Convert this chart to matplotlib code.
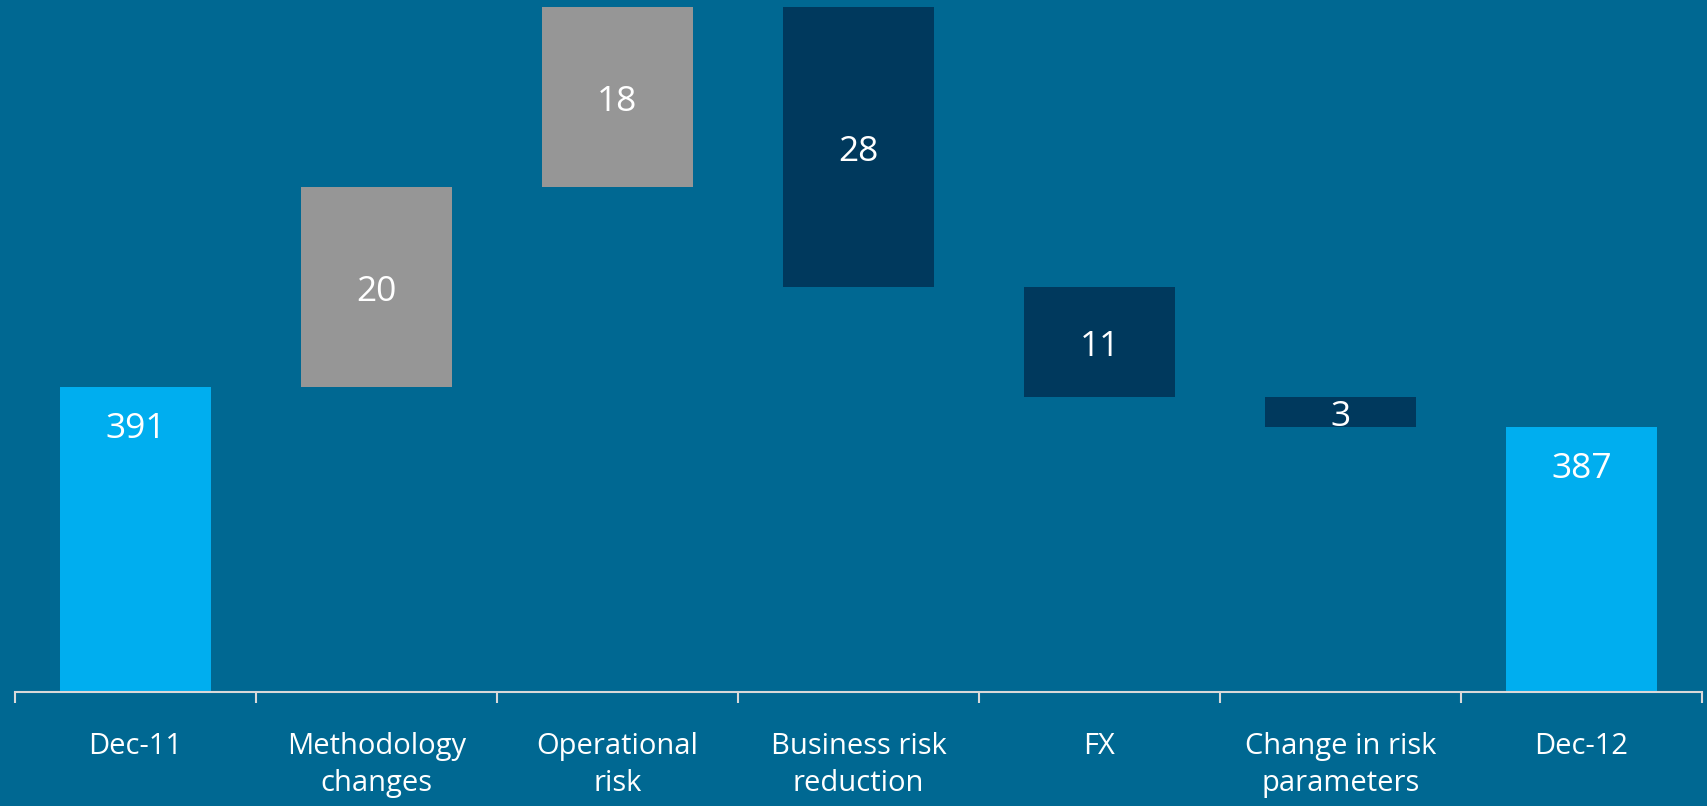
import matplotlib
matplotlib.use("Agg")
import matplotlib.pyplot as plt
import numpy as np

# waterfall data
categories = ["Dec-11", "Methodology\nchanges", "Operational\nrisk", "Business risk\nreduction",
              "FX", "Change in risk\nparameters", "Dec-12"]
values = [391, 20, 18, -28, -11, -3, 387]
kinds = ["total", "up", "up", "down", "down", "down", "total"]

colors = {"total": "#00AEEF", "up": "#969696", "down": "#00395D"}
bg = "#006892"

plt.rcParams['font.family'] = ['Open Sans', 'DejaVu Sans']

fig = plt.figure(figsize=(17.07, 8.06), dpi=100, facecolor=bg)
ax = fig.add_axes([15 / 1707, (806 - 691.7) / 806, 1687 / 1707, 691.7 / 806])
ax.set_facecolor(bg)

x = np.arange(len(categories))
bottoms = []
heights = []
running = 0
for v, k in zip(values, kinds):
    if k == "total":
        bottoms.append(0)
        heights.append(v)
        running = v
    else:
        lo = min(running, running + v)
        bottoms.append(lo)
        heights.append(abs(v))
        running += v

ymin, ymax = 360.6, 429.7
bar_cols = [colors[k] for k in kinds]
ax.bar(x, heights, bottom=bottoms, width=0.63, color=bar_cols, zorder=2)

# value labels
for xi, b, h, v, k in zip(x, bottoms, heights, values, kinds):
    if k == "total":
        ax.annotate(str(v), (xi, b + h), xytext=(0, -42), textcoords="offset pixels",
                    ha="center", va="center", color="white", fontsize=25.5)
    else:
        ax.annotate(str(abs(v)), (xi, b + h / 2), xytext=(0, -5), textcoords="offset pixels",
                    ha="center", va="center", color="white", fontsize=25.5)

ax.set_xlim(-0.5, len(categories) - 0.5)
ax.set_ylim(ymin, ymax)

for s in ["top", "right", "left"]:
    ax.spines[s].set_visible(False)
ax.spines["bottom"].set_color("#D9D9D9")
ax.spines["bottom"].set_linewidth(1.5)
ax.spines["bottom"].set_zorder(3)
ax.set_yticks([])

ax.set_xticks(x)
ax.set_xticklabels(categories, color="white", fontsize=21, linespacing=1.38)
ax.tick_params(axis="x", which="major", length=0, pad=29)
ax.set_xticks(np.arange(-0.5, len(categories)), minor=True)
ax.tick_params(axis="x", which="minor", length=8, width=1.5, color="#D9D9D9")

fig.savefig("out.png", dpi=100, facecolor=bg)
